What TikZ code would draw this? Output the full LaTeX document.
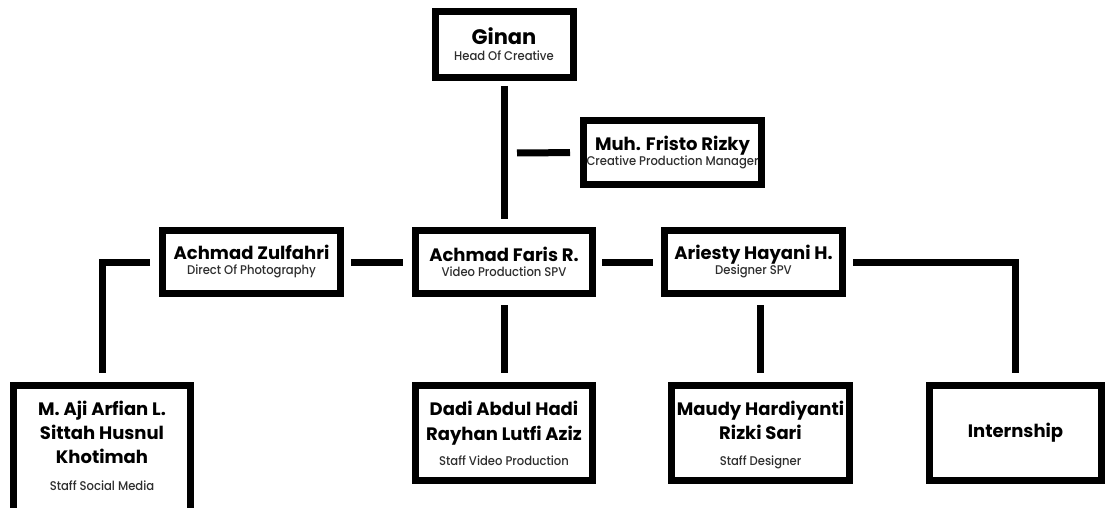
\documentclass[tikz,border=0pt]{standalone}
\usepackage{fontspec}
\setmainfont{Poppins}
\newfontfamily\popmed{Poppins}[UprightFont=* Medium, FakeStretch=0.92]
\newcommand\cardname{\rmfamily\fontsize{18}{15}\selectfont\bfseries\color{black}}
\newcommand\cardbig{\rmfamily\fontsize{21}{15}\selectfont\bfseries\color{black}}
\newcommand\cardrole{\popmed\fontsize{12.6}{15}\selectfont\color{black!82}}
\begin{document}
\begin{tikzpicture}[x=1pt,y=-1pt,
  box/.style={draw=black, line width=7pt, inner sep=0pt, align=center,
    minimum width=178pt, minimum height=63pt,
    font={\cardrole\lineskiplimit=-100pt\lineskip=0pt\relax}},
  conn/.style={line width=7pt, black}]
\useasboundingbox (0,0) rectangle (1106,508);
\fill[white] (0,0) rectangle (1106,508);
\begin{scope}
\clip (0,0) rectangle (1106,508);
% boxes
\node[box, minimum width=138pt, minimum height=66pt] (ginan) at (504,44.5)
  {{\cardbig Ginan}\\[1pt]{\cardrole Head Of Creative}};
\node[box, minimum height=64pt] (fristo) at (672.5,152.5)
  {{\cardname Muh. Fristo Rizky}\\{\cardrole Creative Production Manager}};
\node[box] (zul) at (251.5,262)
  {{\cardname Achmad Zulfahri}\\{\cardrole Direct Of Photography}};
\node[box, minimum width=177pt] (faris) at (504,262)
  {{\cardname Achmad Faris R.}\\{\cardrole Video Production SPV}};
\node[box] (ari) at (753.5,262)
  {{\cardname Ariesty Hayani H.}\\{\cardrole Designer SPV}};
\node[box, minimum width=177pt, minimum height=127pt] (aji) at (102,449)
  {{\cardname M. Aji Arfian L.}\\[9pt]{\cardname Sittah Husnul}\\[9pt]{\cardname Khotimah}\\[12pt]{\cardrole Staff Social Media}\rule[-6pt]{0pt}{6pt}};
\node[box, minimum width=177pt, minimum height=95pt] (dadi) at (504,433)
  {{\cardname Dadi Abdul Hadi}\\[10pt]{\cardname Rayhan Lutfi Aziz}\\[10pt]{\cardrole Staff Video Production}};
\node[box, minimum height=95pt] (maudy) at (760.5,433)
  {\rule{0pt}{17.5pt}{\cardname Maudy Hardiyanti}\\[9pt]{\cardname Rizki Sari}\\[11pt]{\cardrole Staff Designer}};
\node[box, minimum width=172pt, minimum height=95pt] (intern) at (1015.5,433)
  {{\cardname Internship}};
\coordinate (fdash) at (517,153);
% connectors
\draw[conn, shorten <=5pt, shorten >=8pt] (ginan.south) -- (faris.north);
\draw[conn, shorten <=10pt] (fristo.west) -- (fdash);
\draw[conn, shorten <=7pt, shorten >=9pt] (zul.east) -- (faris.west);
\draw[conn, shorten <=6pt, shorten >=8pt] (faris.east) -- (ari.west);
\draw[conn, shorten <=7pt, shorten >=9pt] (ari.east) -| (intern.north);
\draw[conn, shorten <=9pt, shorten >=9pt] (zul.west) -| (aji.north);
\draw[conn, shorten <=8pt, shorten >=9pt] (faris.south) -- (dadi.north);
\draw[conn, shorten <=8pt, shorten >=9pt] (ari.south -| maudy.north) -- (maudy.north);
\end{scope}
\end{tikzpicture}
\end{document}
